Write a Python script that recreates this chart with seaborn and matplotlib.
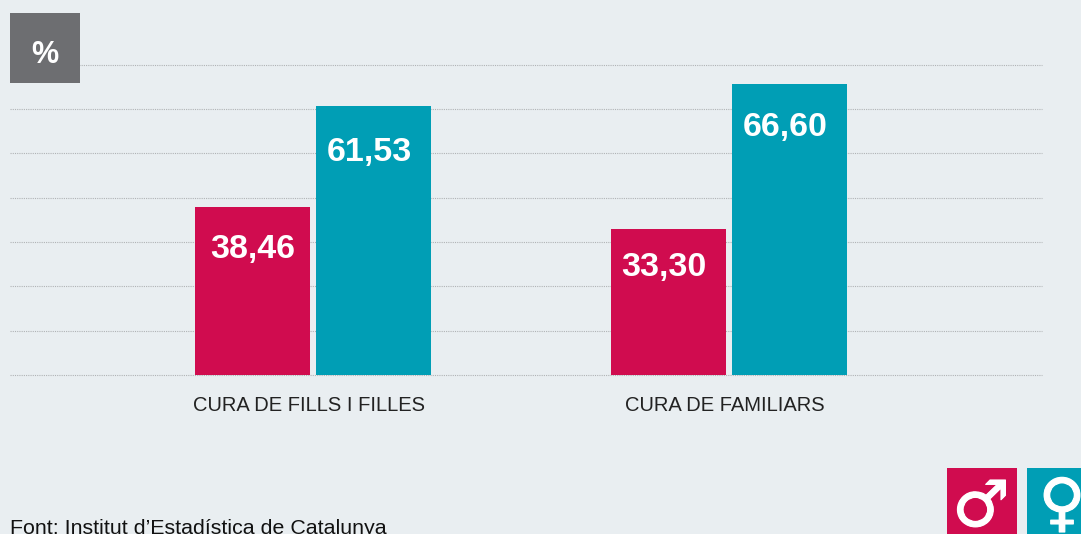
import pandas as pd
import seaborn as sns
import matplotlib.pyplot as plt
import matplotlib.patheffects as pe
from matplotlib.patches import Rectangle
from matplotlib.transforms import ScaledTranslation

categories = ["CURA DE FILLS I FILLES", "CURA DE FAMILIARS"]
homes = [38.46, 33.30]
dones = [61.53, 66.60]
grid_values = [0, 10.13, 20.27, 30.4, 40.53, 50.67, 60.8, 70.9]

BG = "#e9eef1"
RED = "#d00c4f"
TEAL = "#009eb5"
GREY = "#6d6e71"
W, H = 1081, 534

df = pd.DataFrame({
    "cat": categories * 2,
    "sex": ["H"] * 2 + ["D"] * 2,
    "val": homes + dones,
})

sns.set_style("white")
plt.rcParams["font.family"] = ["Liberation Sans", "DejaVu Sans"]

fig = plt.figure(figsize=(W / 100, H / 100), dpi=100, facecolor=BG)
ax = fig.add_axes([10 / W, (H - 375) / H, 1032 / W, 310 / H], facecolor=BG)

sns.barplot(data=df, x="cat", y="val", hue="sex", order=categories, hue_order=["H", "D"],
            palette=[RED, TEAL], width=242 / 416, gap=6 / 121, saturation=1,
            legend=False, ax=ax, zorder=3, linewidth=0)

ax.set_xlim(-303 / 416, 729 / 416)
ax.set_ylim(0, 70.9)
ax.set_yticks(grid_values)
ax.set_yticklabels([])
ax.grid(axis="y", color="#b0b3b5", linestyle=(0, (1, 1)), linewidth=0.8)
ax.set_axisbelow(True)
ax.tick_params(axis="both", length=0)
ax.tick_params(axis="x", pad=15, labelsize=14.5, labelcolor="#222222")
ax.set_xlabel("")
ax.set_ylabel("")
sns.despine(ax=ax, left=True, bottom=True, top=True, right=True)
for line in ax.get_ygridlines():
    line.set_clip_on(False)
# labels sit 4 px left of the group centres in the original
shift = ScaledTranslation(-4 / 100, 0, fig.dpi_scale_trans)
for lab in ax.get_xticklabels():
    lab.set_transform(lab.get_transform() + shift)

# nudges in pixels, the labels are not quite centred in the original
nudges = [[(0, -39), (-4, -43)], [(-5, -35), (-4, -40)]]
for j, cont in enumerate(ax.containers):
    for i, bar in enumerate(cont.patches):
        dx, dy = nudges[i][j]
        ax.annotate(f"{bar.get_height():.2f}".replace(".", ","),
                    (bar.get_x() + bar.get_width() / 2, bar.get_height()),
                    xytext=(dx * 0.72, dy * 0.72), textcoords="offset points",
                    ha="center", va="center_baseline", color="white", fontsize=24.5,
                    fontweight="bold", zorder=5)

# % box and the two symbol boxes
for x0, y0, w, h, c in [(10, 13, 70, 70, GREY), (947, 468, 70, 70, RED), (1027, 468, 70, 70, TEAL)]:
    fig.add_artist(Rectangle((x0 / W, 1 - (y0 + h) / H), w / W, h / H, color=c, lw=0,
                             transform=fig.transFigure, zorder=6))
fig.text(45 / W, 1 - 55 / H, "%", color="white", fontsize=22, fontweight="bold",
         ha="center", va="center", zorder=7)
thick = [pe.withStroke(linewidth=0.8, foreground="white")]
fig.text(981 / W, 1 - 508 / H, "\u2642", color="white", fontsize=46,
         family="DejaVu Sans", ha="center", va="center", zorder=7, path_effects=thick)
fig.text(1062 / W, 1 - 506 / H, "\u2640", color="white", fontsize=46,
         family="DejaVu Sans", ha="center", va="center", zorder=7, path_effects=thick)

fig.text(10 / W, 1 - 534 / H, "Font: Institut d\u2019Estadística de Catalunya",
         color="#111111", fontsize=15.4, ha="left", va="baseline")

fig.savefig("out.png", dpi=100, facecolor=BG)
